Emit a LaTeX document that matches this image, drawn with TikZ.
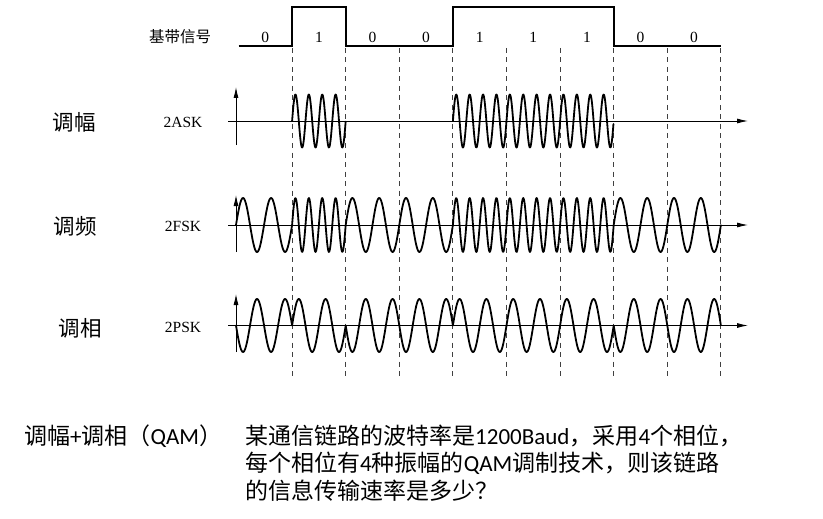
\documentclass[tikz,border=0pt]{standalone}
\usepackage{fontspec}
\setmainfont{Liberation Serif}
\newfontfamily\cjkf{Noto Sans CJK SC}
\newfontfamily\calf{Carlito}
\usetikzlibrary{arrows.meta}
\begin{document}
\begin{tikzpicture}[x=1pt,y=-1pt,
  wave/.style={line width=1.8pt,line join=round,line cap=round},
  axisline/.style={line width=0.9pt,-{Latex[length=11pt,width=5pt]}},
  guide/.style={line width=0.9pt,black!75,dash pattern=on 5pt off 4.5pt},
  sigline/.style={line width=1.7pt,line join=miter},
  biglbl/.style={font=\cjkf\fontsize{21.5}{25}\selectfont,inner sep=0pt},
  smalllbl/.style={font=\fontsize{15.5}{17}\selectfont,inner sep=0pt},
  bblbl/.style={font=\cjkf\fontsize{15.5}{17}\selectfont,inner sep=0pt},
  para/.style={font=\cjkf\fontsize{23}{27}\selectfont,inner sep=0pt,anchor=base west}]
\useasboundingbox (0,0) rectangle (823,519);

% boundaries
\foreach \k in {0,...,9} {\coordinate (b\k) at ({238.5+53.6*\k},46);}

% dashed guide lines
\foreach \k in {1,...,9} {
  \draw[guide] ({238.5+53.6*\k},48) -- ({238.5+53.6*\k},380);
}

% baseband signal
\draw[sigline] (238.5,46) -- (292.1,46) -- (292.1,7) -- (345.7,7) -- (345.7,46)
  -- (452.9,46) -- (452.9,7) -- (613.7,7) -- (613.7,46) -- (720.9,46);
\node[bblbl] (bb) at (180,37) {基带信号};
\foreach \k/\b in {0/0,1/1,2/0,3/0,4/1,5/1,6/1,7/0,8/0} {
  \node[smalllbl] (bit\k) at ({238.5+53.6*\k+26.8},37) {\b};
}

% ASK
\draw[axisline] (228,121) -- (748,121);
\draw[axisline] (236,145) -- (236,87);
\draw[wave] plot[domain=0:1,samples=140,variable=\t] ({292.1+53.6*\t},{121-26.5*sin(1440*\t)});
\draw[wave] plot[domain=0:1,samples=400,variable=\t] ({452.9+160.8*\t},{121-26.5*sin(4320*\t)});
\node[biglbl] (am) at (74,122) {调幅};
\node[smalllbl] (ask) at (183,122) {2ASK};

% FSK
\draw[axisline] (228,225) -- (748,225);
\draw[axisline] (236,252) -- (236,195);
\draw[wave] plot[domain=0:1,samples=80,variable=\t] ({236+56.1*\t},{225-27*sin(720*\t)})
  \foreach \k/\n in {1/4,2/2,3/2,4/4,5/4,6/4,7/2,8/2} {
    -- plot[domain=0:1,samples=90,variable=\t] ({238.5+53.6*(\k+\t)},{225-27*sin(360*\n*\t)})
  };
\node[biglbl] (fm) at (75,226) {调频};
\node[smalllbl] (fsk) at (183,226) {2FSK};

% PSK
\draw[axisline] (228,325.5) -- (748,325.5);
\draw[axisline] (236,352) -- (236,294);
\draw[wave] plot[domain=0:1,samples=80,variable=\t] ({236+56.1*\t},{325.5+26.5*sin(720*\t)})
  \foreach \k/\s in {1/1,2/-1,3/-1,4/1,5/1,6/1,7/-1,8/-1} {
    -- plot[domain=0:1,samples=90,variable=\t] ({238.5+53.6*(\k+\t)},{325.5-\s*26.5*sin(720*\t)})
  };
\node[biglbl] (pm) at (80,328) {调相};
\node[smalllbl] (psk) at (183,327) {2PSK};

% bottom text
\node[para] (qam) at (24,444) {调幅{\calf +}调相（{\calf QAM}）};
\node[para] (q1) at (245,444) {某通信链路的波特率是{\calf 1200Baud}，采用{\calf 4}个相位，};
\node[para] (q2) at (245,471.5) {每个相位有{\calf 4}种振幅的{\calf QAM}调制技术，则该链路};
\node[para] (q3) at (245,499) {的信息传输速率是多少？};
\end{tikzpicture}
\end{document}
